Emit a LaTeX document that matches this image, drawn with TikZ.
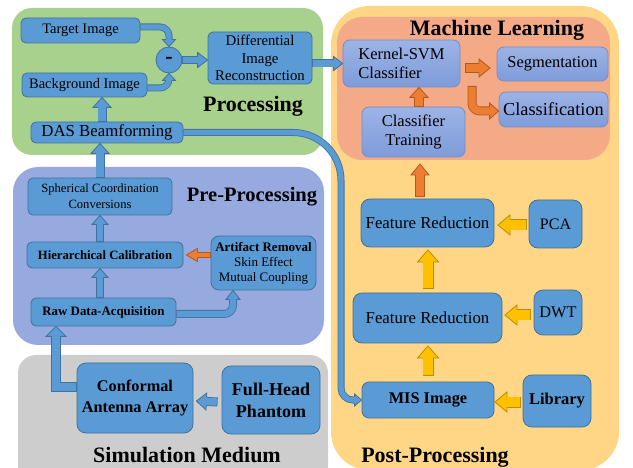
\documentclass[tikz,border=0pt]{standalone}
\usepackage{fontspec}
\setmainfont{Liberation Serif}
\usetikzlibrary{calc}
\definecolor{bluef}{HTML}{5B9BD5}
\definecolor{blueb}{HTML}{41719C}
\definecolor{orf}{HTML}{ED7D31}
\definecolor{orb}{HTML}{AE5A21}
\definecolor{yef}{HTML}{FFC000}
\definecolor{yeb}{HTML}{BC8C00}
\definecolor{greenr}{HTML}{A9D18E}
\definecolor{lavr}{HTML}{97AADF}
\definecolor{greyr}{HTML}{CDCDCD}
\definecolor{yelr}{HTML}{FFD685}
\definecolor{salr}{HTML}{F4A987}
\definecolor{mlt}{HTML}{9DB3E6}
\definecolor{mlbt}{HTML}{7E9CD9}
\definecolor{mlb}{HTML}{6F8FCF}
\newcommand\fsz[2]{\fontsize{#1}{#2}\selectfont}
\pgfkeys{/ba/.is family,
 /ba/fill/.store in=\baF, /ba/border/.store in=\baB,
 /ba/W/.store in=\baW, /ba/H/.store in=\baH, /ba/L/.store in=\baL,
 /ba/path/.code={\tikzset{bapath/.style={#1}}}}
\newcommand\blockarrow[4][]{%
 \begingroup
 \tikzset{bapath/.style={}}%
 \pgfqkeys{/ba}{fill=bluef,border=blueb,W=8pt,H=8pt,L=9pt,#1}%
 \pgfmathsetlengthmacro\baI{\baW-1.6pt}%
 \pgfmathsetlengthmacro\baS{\baW/2-0.4pt}%
 \coordinate (ba-b) at ($#4!\baL!#3$);
 \draw[draw=\baB, line width=\baW, bapath] #2 -- (ba-b);
 \draw[draw=\baF, line width=\baI, shorten <=0.8pt, bapath] #2 -- (ba-b);
 \filldraw[fill=\baF, draw=\baB, line width=0.8pt, line join=miter]
   ($(ba-b)!\baS!90:#4$) -- ($(ba-b)!\baH!90:#4$) -- #4 -- ($(ba-b)!\baH!-90:#4$) -- ($(ba-b)!\baS!-90:#4$);
 \endgroup}
\tikzset{
 bn/.style={draw=blueb, fill=bluef, line width=0.8pt, rounded corners=5pt, align=center, inner sep=1pt, text=black},
 bnl/.style={bn, rounded corners=9pt},
 ml/.style={draw=mlb, top color=mlt, bottom color=mlbt, line width=0.8pt, rounded corners=7pt, align=center, inner sep=1pt, text=black},
 title/.style={font=\rmfamily\bfseries\fsz{22}{24}, inner sep=0pt}
}
\pgfkeys{/ba/ya/.style={fill=yef, border=yeb, W=11pt, H=10pt, L=12pt}, /ba/oa/.style={fill=orf, border=orb}}
\begin{document}
\begin{tikzpicture}[x=1pt,y=-1pt]
\useasboundingbox (0,0) rectangle (633,468);
% regions
\fill[greenr, rounded corners=20pt] (12,8) rectangle (323,155);
\fill[lavr, rounded corners=25pt] (13,167) rectangle (324,345);
\fill[greyr, rounded corners=18pt] (18,355) rectangle (328,485);
\fill[yelr, rounded corners=38pt] (331,6) rectangle (619,470);
\fill[salr, rounded corners=25pt] (337,17) rectangle (610,160);
% titles
\node[title] (tproc) at (253,106) {Processing};
\node[title] (tml) at (497,30) {Machine Learning};
\node[title, font=\rmfamily\bfseries\fsz{20.5}{22}] (tpre) at (252,197) {Pre-Processing};
\node[title] (tsim) at (187,455) {Simulation Medium};
\node[title] (tpost) at (435,457) {Post-Processing};
% processing
\node[bn, minimum width=119, minimum height=25, font=\rmfamily\fsz{14.5}{17}] (tgt) at (80.5,30.5) {Target Image};
\node[bn, minimum width=125, minimum height=24, font=\rmfamily\fsz{14.5}{17}] (bg) at (84.5,85) {Background Image};
\node[draw=blueb, fill=bluef, line width=0.8pt, circle, minimum size=26, inner sep=0, font=\rmfamily\bfseries\fsz{22}{22}] (mn) at (169,60) {-};
\node[bn, minimum width=104, minimum height=52, font=\rmfamily\fsz{14.8}{17.5}] (dir) at (260,58) {Differential\\Image\\Reconstruction};
\node[bn, minimum width=152, minimum height=21, font=\rmfamily\fsz{16.8}{18}] (das) at (107,132.5) {DAS Beamforming};
% machine learning
\node[ml, minimum width=117, minimum height=47, align=left, font=\rmfamily\fsz{16.5}{19}] (ksvm) at (401.5,63.5) {Kernel-SVM\\Classifier};
\node[ml, minimum width=111, minimum height=34, font=\rmfamily\fsz{16.4}{18}] (seg) at (552.5,64) {Segmentation};
\node[ml, minimum width=109, minimum height=35, font=\rmfamily\fsz{18.3}{20}] (cls) at (553.5,109.5) {Classification};
\node[ml, minimum width=103, minimum height=50, font=\rmfamily\fsz{16.5}{19}] (ctr) at (413.5,132) {Classifier\\Training};
% pre-processing
\node[bn, minimum width=144, minimum height=37, font=\rmfamily\fsz{12.6}{16}] (sph) at (100,196.5) {Spherical Coordination\\Conversions};
\node[bn, minimum width=156, minimum height=26, font=\rmfamily\bfseries\fsz{12.7}{15}] (hier) at (105,255) {Hierarchical Calibration};
\node[bn, minimum width=105, minimum height=54, rounded corners=8pt, font=\rmfamily\fsz{13}{15}] (art) at (263.5,263) {\textbf{Artifact Removal}\\Skin Effect\\Mutual Coupling};
\node[bn, minimum width=145, minimum height=28, font=\rmfamily\bfseries\fsz{12.9}{15}] (raw) at (103.5,312) {Raw Data-Acquisition};
% simulation
\node[bnl, minimum width=116, minimum height=70, font=\rmfamily\bfseries\fsz{16.3}{21}] (conf) at (135,398) {Conformal\\Antenna Array};
\node[bnl, minimum width=98, minimum height=68, font=\rmfamily\bfseries\fsz{18}{22}] (phan) at (271,400) {Full-Head\\Phantom};
% post-processing
\node[bnl, minimum width=133, minimum height=48, font=\rmfamily\fsz{16.8}{18}] (fr2) at (427.5,223) {Feature Reduction};
\node[bnl, minimum width=53, minimum height=48, font=\rmfamily\fsz{16}{18}] (pca) at (555.5,224) {PCA};
\node[bnl, minimum width=149, minimum height=50, font=\rmfamily\fsz{16.8}{18}] (fr1) at (427.5,318) {Feature Reduction};
\node[bnl, minimum width=48, minimum height=45, font=\rmfamily\fsz{16.3}{18}] (dwt) at (558,312.5) {DWT};
\node[bn, minimum width=132, minimum height=36, rounded corners=7pt, font=\rmfamily\bfseries\fsz{16.3}{18}] (mis) at (428,400) {MIS Image};
\node[bnl, minimum width=68, minimum height=52, font=\rmfamily\bfseries\fsz{16.5}{18}] (lib) at (557,401) {Library};
% ---- blue connectors
\coordinate (k3) at (169,27);
\blockarrow[W=7pt,H=6.5pt,L=7pt,path={rounded corners=9pt}]{(tgt.east |- k3) -- (k3)}{(k3)}{(mn.north)}
\coordinate (k4) at (169,88);
\blockarrow[W=7pt,H=6.5pt,L=7pt,path={rounded corners=9pt}]{(bg.east |- k4) -- (k4)}{(k4)}{(mn.south)}
\blockarrow[W=8pt,H=7.5pt,L=10pt]{(mn.east)}{(mn.east)}{(dir.west |- mn.east)}
\coordinate (d1) at (dir.east |- ksvm.west);
\blockarrow[W=8pt,H=7pt,L=9pt]{(d1)}{(d1)}{(ksvm.west)}
\coordinate (xa) at (102,0);
\blockarrow[W=9pt,H=9pt,L=10pt]{(das.north -| xa)}{(das.north -| xa)}{(bg.south -| xa)}
\blockarrow[W=9pt,H=9pt,L=10pt]{(sph.north)}{(sph.north)}{(das.south -| sph.north)}
\coordinate (h1) at (hier.north -| sph.north);
\blockarrow[W=8pt,H=8pt,L=9pt]{(h1)}{(h1)}{(sph.south)}
\coordinate (r1) at (raw.north -| sph.north);
\blockarrow[W=8pt,H=8pt,L=9pt]{(r1)}{(r1)}{(hier.south -| sph.north)}
\coordinate (k2) at (233,314);
\blockarrow[W=8pt,H=7pt,L=9pt,path={rounded corners=9pt}]{(raw.east |- k2) -- (k2)}{(k2)}{(art.south -| k2)}
\coordinate (k1) at (56,387);
\blockarrow[W=10pt,H=10pt,L=10pt]{(conf.west |- k1) -- (k1)}{(k1)}{(raw.south -| k1)}
\coordinate (p1) at ($(phan.west)+(-4,2)$);
\coordinate (p2) at ($(conf.east)+(3,3)$);
\blockarrow[W=9pt,H=8.5pt,L=10pt]{(p1)}{(p1)}{(p2)}
\coordinate (m1) at (341,132.5);
\coordinate (m2) at (341,400);
\blockarrow[W=7pt,H=6pt,L=7pt]{(das.east) [rounded corners=48pt] -- (m1) [rounded corners=12pt] -- (m2)}{(m2)}{(mis.west)}
% ---- orange connectors
\coordinate (o1) at (art.west |- hier.east);
\coordinate (o2) at ($(hier.east)+(3,0)$);
\blockarrow[oa,W=6.5pt,H=6.5pt,L=11pt]{(o1)}{(o1)}{(o2)}
\coordinate (o3) at (465,68);
\coordinate (o4) at (490,68);
\blockarrow[oa,W=10pt,H=9pt,L=11pt]{(o3)}{(o3)}{(o4)}
\coordinate (o5) at (472,86);
\coordinate (o6) at (472,111);
\blockarrow[oa,W=9pt,H=8pt,L=9pt,path={rounded corners=8pt}]{(o5) -- (o6)}{(o6)}{(cls.west |- o6)}
\coordinate (o7) at ($(ctr.north)+(5.5,0)$);
\blockarrow[oa,W=10pt,H=9pt,L=10pt]{(o7)}{(o7)}{(ksvm.south -| o7)}
\coordinate (o8) at (420,197);
\coordinate (o9) at (420,164);
\blockarrow[oa,W=10pt,H=9pt,L=11pt]{(o8)}{(o8)}{(o9)}
% ---- yellow connectors
\coordinate (y1) at (527,225);
\coordinate (y2) at (498,225);
\blockarrow[ya]{(y1)}{(y1)}{(y2)}
\coordinate (y3) at (531,315);
\coordinate (y4) at (505,315);
\blockarrow[ya]{(y3)}{(y3)}{(y4)}
\coordinate (y5) at (428,289);
\coordinate (y6) at (428,250);
\blockarrow[ya,H=10.5pt]{(y5)}{(y5)}{(y6)}
\coordinate (y7) at (428,376);
\coordinate (y8) at (428,346);
\blockarrow[ya,H=10.5pt]{(y7)}{(y7)}{(y8)}
\coordinate (y9) at (521,402);
\coordinate (y10) at (495,402);
\blockarrow[ya]{(y9)}{(y9)}{(y10)}
\end{tikzpicture}
\end{document}
